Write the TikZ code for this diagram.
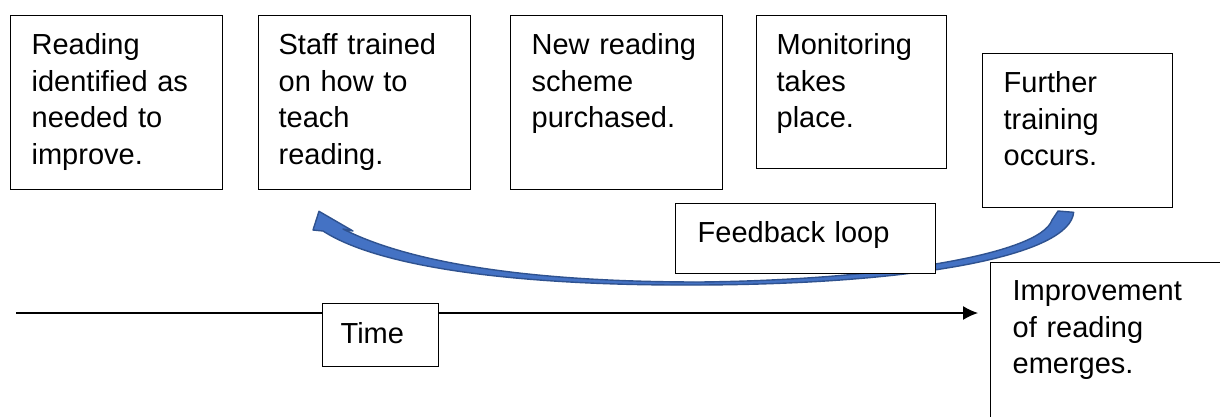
\documentclass[tikz,border=0pt]{standalone}
\usepackage{fontspec}
\setmainfont{Liberation Sans}
\usetikzlibrary{arrows.meta,calc}
\definecolor{arrowfill}{HTML}{4472C4}
\definecolor{arrowedge}{HTML}{2F528F}
\tikzset{
  % #1 width, #2 height, #3 side padding, #4 first baseline below the top edge
  tbox/.style n args={4}{draw, line width=1.3pt, fill=white, anchor=north west,
    align=left, inner xsep=#3, inner ysep=0pt,
    font=\fontsize{29}{36.5}\selectfont,
    text width=#1-2*#3, text height=#4, text depth=#2-#4},
  axis/.style={line width=1.3pt, -{Latex[length=15pt,width=14pt]}},
  loop/.style={fill=arrowfill, draw=arrowedge, line width=1.4pt, line join=round}
}
\begin{document}
\begin{tikzpicture}[x=1pt,y=-1pt]
\useasboundingbox (0,0) rectangle (1220,416);
\clip (0,0) rectangle (1220,416);

% stages of the process
\node[tbox={212pt}{174pt}{21pt}{39pt}] (b1) at (10,15) {Reading\\identified as\\needed to\\improve.};
\node[tbox={212pt}{174pt}{20pt}{39pt}] (b2) at (258,15) {Staff trained\\on how to\\teach\\reading.};
\node[tbox={212pt}{174pt}{21pt}{39pt}] (b3) at (510,15) {New reading\\scheme\\purchased.};
\node[tbox={190pt}{153pt}{20pt}{39pt}] (b4) at (756,15) {Monitoring\\takes\\place.};
\node[tbox={190pt}{154pt}{21pt}{39pt}] (b5) at (982,53) {Further\\training\\occurs.};

% outcome
\node[tbox={260pt}{200pt}{22pt}{38pt}] (imp) at (990,262) {Improvement\\of reading\\emerges.};

% time axis
\coordinate (tstart) at (16,313);
\coordinate (tend) at ([xshift=-12pt]imp.west |- tstart);
\draw[axis] (tstart) -- (tend);
\node[tbox={116pt}{63pt}{18pt}{40pt}] (time) at (322,303) {Time};

% curved feedback arrow from the last stage back to the training stage
\coordinate (tail) at ([xshift=-4pt,yshift=-4pt]b5.south);
\coordinate (tip) at ([xshift=61pt,yshift=-21pt]b2.south west);
\path[loop] (tail)
  .. controls (1070,255) and (920,284) .. (700,285)
  .. controls (520,286) and (380,268) .. (323,231)
  -- (313,230) -- (tip) -- (353,231) -- (343,229)
  .. controls (410,263) and (530,282) .. (700,282)
  .. controls (880,280) and (1040,255) .. (1052,220)
  -- (1058,211) -- cycle;

% loop label
\node[tbox={260pt}{70pt}{22pt}{39pt}] (fb) at (675,203) {Feedback loop};
\end{tikzpicture}
\end{document}
